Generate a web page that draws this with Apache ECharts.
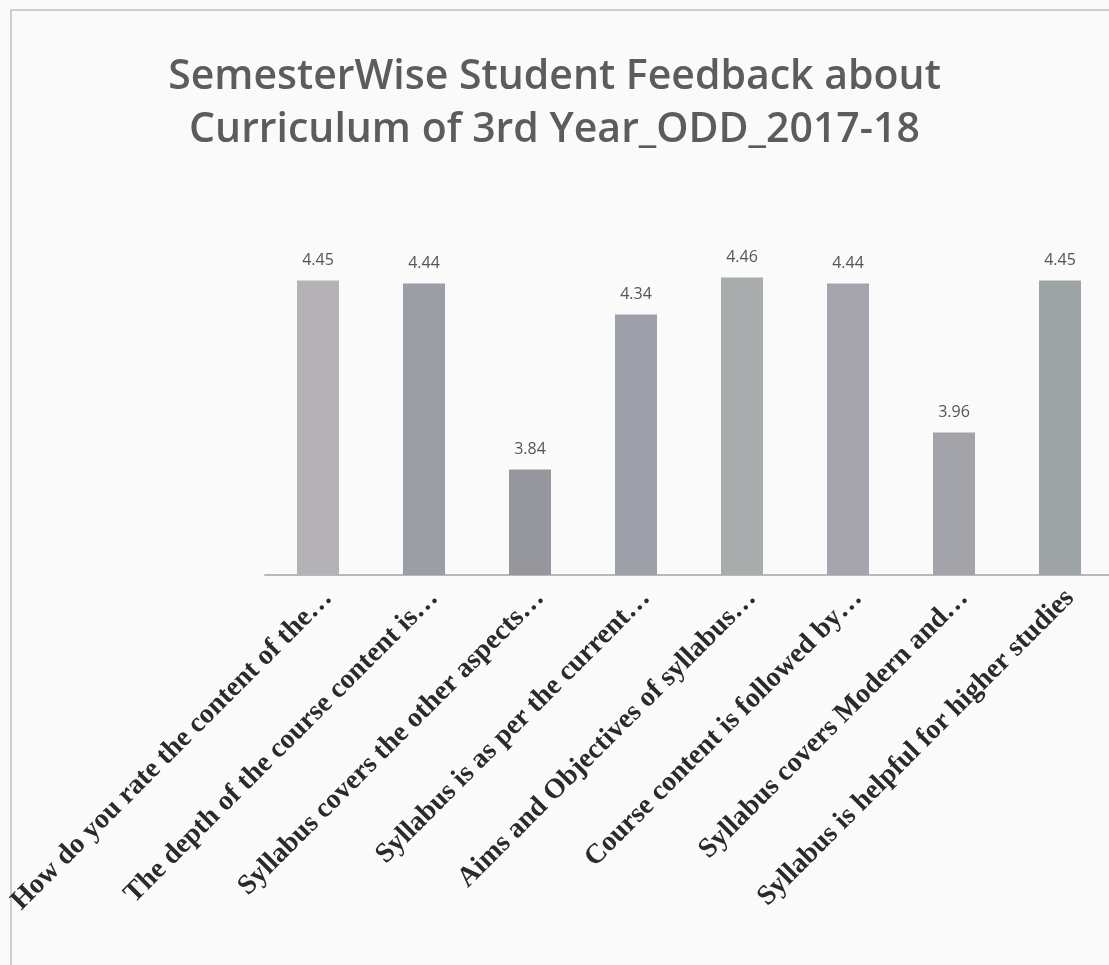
<!DOCTYPE html>
<html>
<head>
<meta charset="utf-8">
<script src="https://cdn.jsdelivr.net/npm/echarts@6/dist/echarts.min.js"></script>
<style>
html,body{margin:0;padding:0;background:#fafafa;}
#chart{width:1109px;height:965px;}
</style>
</head>
<body>
<div id="chart"></div>
<script>
var categories = [
  "How do you rate the content of the\u2026",
  "The depth of the course content is\u2026",
  "Syllabus covers the other aspects\u2026",
  "Syllabus is as per the current\u2026",
  "Aims and Objectives of syllabus\u2026",
  "Course content is followed by\u2026",
  "Syllabus covers Modern and\u2026",
  "Syllabus is helpful for higher studies"
];
var values = [4.45, 4.44, 3.84, 4.34, 4.46, 4.44, 3.96, 4.45];
var barColors = ["#b4b2b7", "#9c9ea5", "#96979c", "#9da0a8", "#a9acac", "#a6a5ae", "#a3a3aa", "#9ea3a6"];
var titleText = "SemesterWise Student Feedback about\nCurriculum of 3rd Year_ODD_2017-18";

var chart = echarts.init(document.getElementById('chart'));
chart.setOption({
  backgroundColor: '#fafafa',
  animation: false,
  title: {
    text: titleText,
    left: 'center',
    top: 46,
    textStyle: {
      fontFamily: 'Open Sans',
      fontWeight: 600,
      fontSize: 41,
      lineHeight: 53,
      color: '#5c5c5c'
    }
  },
  graphic: [{
    type: 'polyline',
    shape: { points: [[1109, 10], [11, 10], [11, 965]] },
    style: { stroke: '#cfcfcf', lineWidth: 2, fill: null },
    silent: true
  }],
  grid: { left: 265, right: -4, top: 234, bottom: 390, containLabel: false, outerBoundsMode: 'none' },
  xAxis: {
    type: 'category',
    data: categories,
    axisLine: { lineStyle: { color: '#b8b8b8', width: 2 } },
    axisTick: { show: false },
    axisLabel: {
      interval: 0,
      rotate: 45,
      margin: 9,
      verticalAlign: 'top',
      fontFamily: 'Liberation Serif',
      fontWeight: 'bold',
      fontSize: 28,
      color: '#2a2a2a'
    }
  },
  yAxis: {
    type: 'value',
    min: 3.5,
    max: 4.6,
    show: false
  },
  series: [{
    type: 'bar',
    barWidth: 42,
    data: values.map(function (v, i) {
      return { value: v, itemStyle: { color: barColors[i] } };
    }),
    label: {
      show: true,
      position: 'top',
      distance: 12,
      fontFamily: 'Open Sans',
      fontSize: 16,
      color: '#555'
    }
  }]
});
</script>
</body>
</html>
